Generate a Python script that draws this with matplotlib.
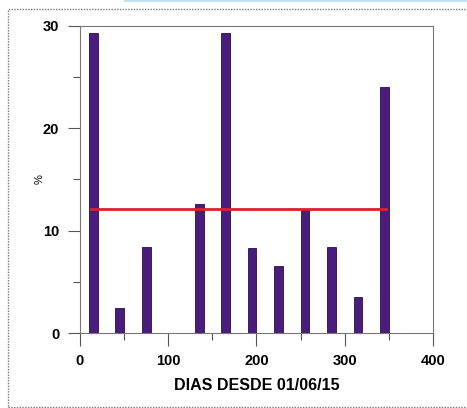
import matplotlib
matplotlib.use("Agg")
import matplotlib.pyplot as plt
from matplotlib.patches import Rectangle
from matplotlib.ticker import MultipleLocator

# ---------- Data ----------
days = [15, 45, 75, 105, 135, 165, 195, 225, 255, 285, 315, 345]
percent = [29.3, 2.4, 8.4, 0.0, 12.6, 29.3, 8.3, 6.5, 12.0, 8.4, 3.5, 24.0]
mean_value = 12.1
mean_span = [13, 347]

x_ticks = [0, 100, 200, 300, 400]
y_ticks = [0, 10, 20, 30]

plt.rcParams["font.family"] = ["Liberation Sans", "DejaVu Sans"]

fig = plt.figure(figsize=(4.67, 4.08), dpi=100)
ax = fig.add_axes([0.1713, 0.1838, 0.927 - 0.1713, 0.937 - 0.1838])

# bars
ax.bar(days, percent, width=10, color="#4a1d7c", edgecolor="#2a0f4a", linewidth=0.6, zorder=2)

# mean line
ax.plot(mean_span, [mean_value, mean_value], color="#d8232a", linewidth=2, zorder=3)

# ---------- Axes styling ----------
ax.set_xlim(0, 400)
ax.set_ylim(0, 30)
ax.set_xticks(x_ticks)
ax.set_yticks(y_ticks)
ax.xaxis.set_minor_locator(MultipleLocator(50))
ax.yaxis.set_minor_locator(MultipleLocator(5))
ax.tick_params(axis="both", which="major", length=9, width=0.8, color="#555555",
               labelsize=10.5, pad=6)
ax.tick_params(axis="both", which="minor", length=5, width=0.8, color="#555555")
for lab in ax.get_xticklabels() + ax.get_yticklabels():
    lab.set_fontweight("bold")
for sp in ax.spines.values():
    sp.set_color("#777777")
    sp.set_linewidth(0.8)

ax.set_xlabel("DIAS DESDE 01/06/15", fontsize=11.5, fontweight="bold", labelpad=7)
ax.set_ylabel("%", fontsize=8, labelpad=-1)

# outer dotted frame
fig.patches.append(Rectangle((8 / 467, 1 / 408), 1.0, 398 / 408, transform=fig.transFigure,
                             fill=False, edgecolor="#777777", linestyle=(0, (1, 1)),
                             linewidth=1))
# light blue strip at top
fig.add_artist(plt.Line2D([125 / 467, 1.0], [0.999, 0.999], transform=fig.transFigure,
                          color="#bfe0f0", linewidth=2))

fig.savefig("out.png", dpi=100)
